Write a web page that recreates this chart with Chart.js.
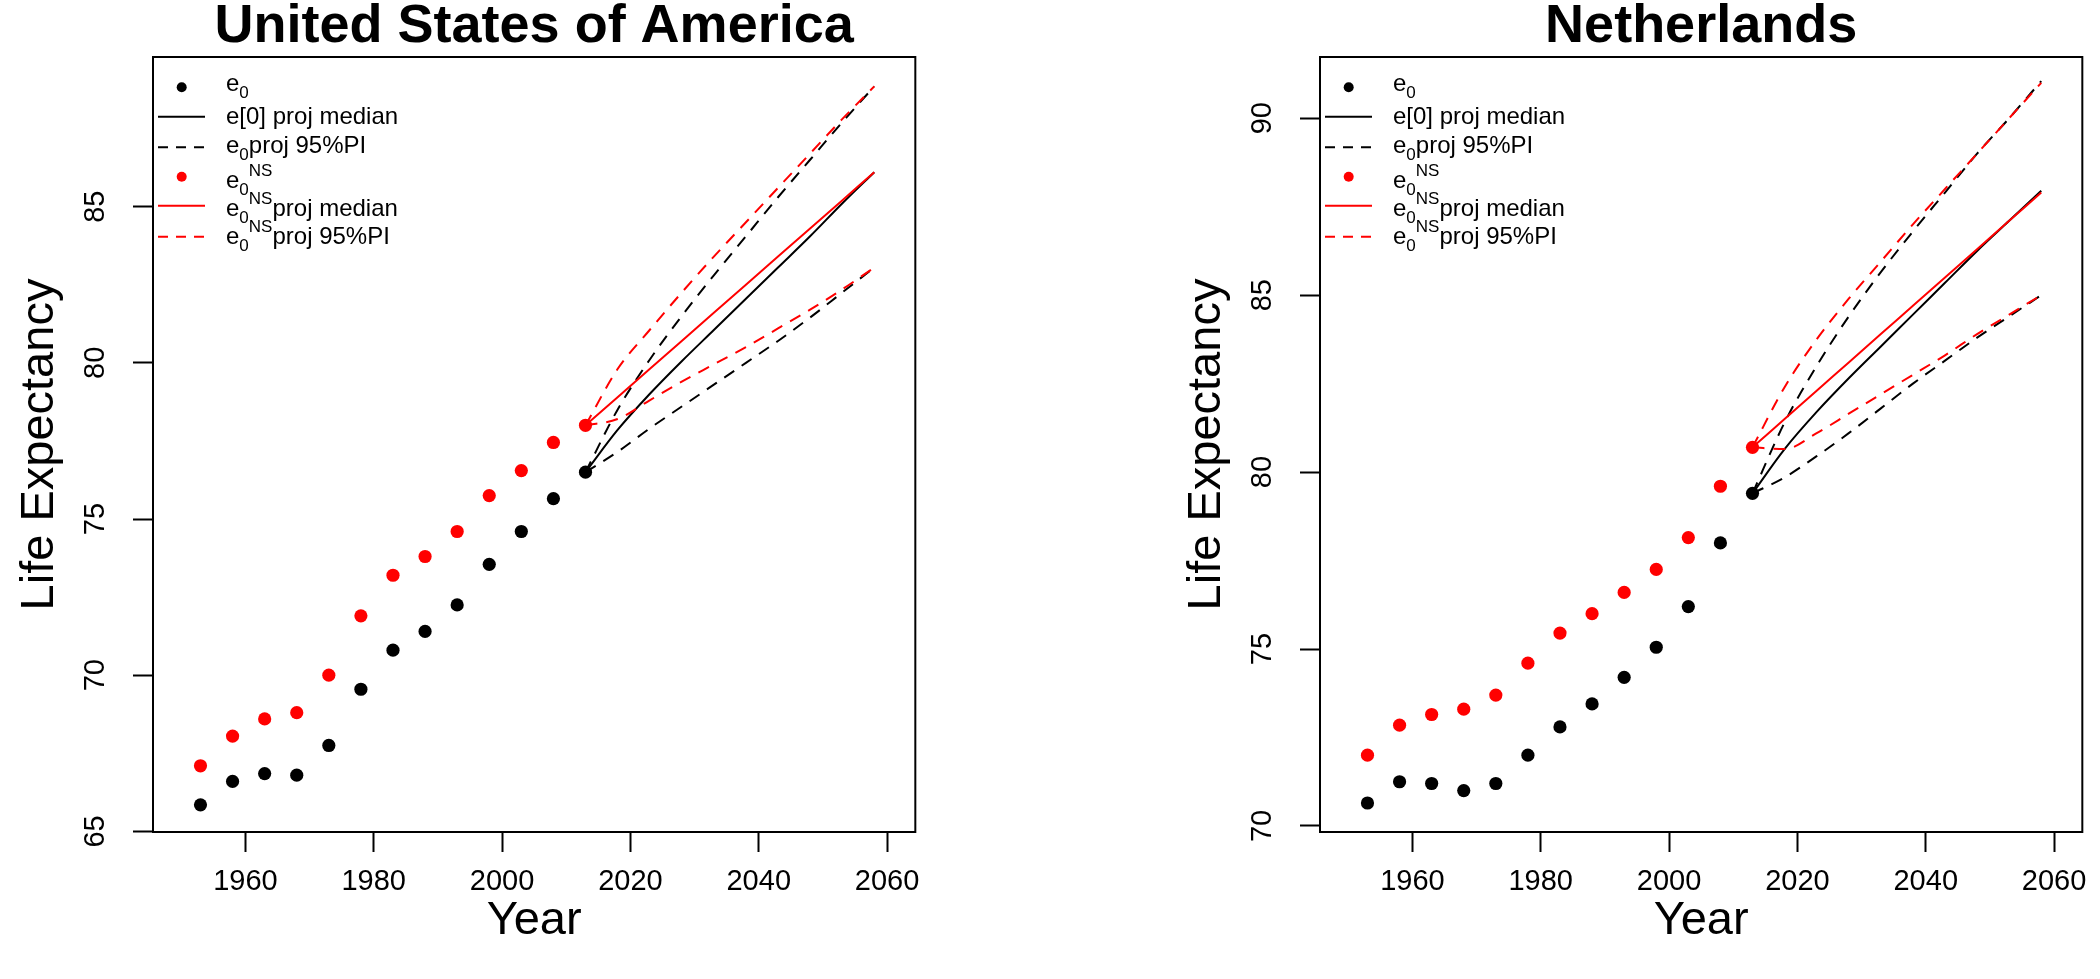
<!DOCTYPE html>
<html><head><meta charset="utf-8">
<script src="https://cdn.jsdelivr.net/npm/chart.js@4/dist/chart.umd.min.js"></script>
<style>
html,body{margin:0;padding:0;background:#fff;width:2100px;height:979px;overflow:hidden;}
.panel{position:absolute;top:0;width:933px;height:979px;}
#p1{left:0px} #p2{left:1167px}
.leg{position:absolute;font-family:"Liberation Sans",Arial,sans-serif;font-size:24px;line-height:24px;color:#000;white-space:nowrap;}
.sb{position:relative;top:7px;font-size:17px;}
.sp{position:relative;top:-12px;font-size:17px;}
svg.sym{position:absolute;left:0;top:0;overflow:visible;}
</style></head>
<body>
<div class="panel" id="p1"><canvas id="c1" width="933" height="979"></canvas></div>
<div class="panel" id="p2"><canvas id="c2" width="933" height="979"></canvas></div>
<script>
// ---- data ----
const obsYears  = [1953,1958,1963,1968,1973,1978,1983,1988,1993,1998,2003,2008,2013];
const projYears = [2013,2018,2023,2028,2033,2038,2043,2048,2053,2058];
const xTicks = [1960,1980,2000,2020,2040,2060];

const usaTitle = "United States of America";
const usaE0    = [65.85,66.6,66.85,66.8,67.75,69.55,70.8,71.4,72.25,73.55,74.6,75.65,76.5];
const usaE0NS  = [67.1,68.05,68.6,68.8,70.0,71.9,73.2,73.8,74.6,75.75,76.55,77.45,78.0];
const usaMed   = [76.5,77.85,79.0,80.05,81.05,82.05,83.05,84.05,85.1,86.1];
const usaUp    = [76.5,78.5,80.1,81.5,82.8,84.05,85.3,86.5,87.7,88.85];
const usaLo    = [76.5,77.15,77.9,78.6,79.3,80.0,80.7,81.45,82.25,83.05];
const usaNSMed = [78.0,78.9,79.8,80.7,81.6,82.5,83.4,84.3,85.2,86.1];
const usaNSUp  = [78.0,79.8,81.05,82.25,83.4,84.5,85.6,86.7,87.8,88.85];
const usaNSLo  = [78.0,78.2,78.8,79.4,79.95,80.5,81.1,81.7,82.35,83.05];
const usaYTicks = [65,70,75,80,85];

const nlTitle = "Netherlands";
const nlE0    = [70.65,71.25,71.2,71.0,71.2,72.0,72.8,73.45,74.2,75.05,76.2,78.0,79.4];
const nlE0NS  = [72.0,72.85,73.15,73.3,73.7,74.6,75.45,76.0,76.6,77.25,78.15,79.6,80.7];
const nlMed   = [79.4,80.65,81.7,82.65,83.55,84.45,85.35,86.25,87.1,87.95];
const nlUp    = [79.4,81.4,83.0,84.4,85.65,86.8,87.9,89.0,90.0,91.05];
const nlLo    = [79.4,79.85,80.45,81.1,81.8,82.5,83.15,83.8,84.4,85.0];
const nlNSMed = [80.7,81.5,82.3,83.1,83.9,84.7,85.5,86.3,87.1,87.9];
const nlNSUp  = [80.7,82.4,83.75,84.9,85.95,87.0,88.0,89.0,90.0,91.0];
const nlNSLo  = [80.7,80.65,81.1,81.65,82.2,82.75,83.3,83.9,84.45,85.0];
const nlYTicks = [70,75,80,85,90];

const xLabel = "Year";
const yLabel = "Life Expectancy";

// ---- helpers ----
const FONT = '"Liberation Sans", Arial, sans-serif';
const zip = (xs, ys) => xs.map((x, i) => ({x: x, y: ys[i]}));
const RED = '#ff0000', BLK = '#000000';
const DASH = [12, 9];

function lineDs(xs, ys, color, dash) {
  return {data: zip(xs, ys), showLine: true, borderColor: color, backgroundColor: color,
          borderWidth: 2, borderDash: dash || [], pointRadius: 0,
          cubicInterpolationMode: 'monotone', fill: false};
}
function pointDs(xs, ys, color) {
  return {data: zip(xs, ys), showLine: false, borderColor: color, backgroundColor: color,
          pointRadius: 6.6, pointBorderWidth: 0, pointStyle: 'circle'};
}

const boxPlugin = {
  id: 'box',
  afterDraw(chart) {
    const a = chart.chartArea, c = chart.ctx;
    c.save(); c.strokeStyle = '#000'; c.lineWidth = 2;
    c.strokeRect(a.left, a.top, a.right - a.left, a.bottom - a.top);
    c.restore();
  }
};

function makeChart(id, title, yMin, yMax, yTicks, d) {
  return new Chart(document.getElementById(id), {
    type: 'scatter',
    data: {datasets: [
      lineDs(projYears, d.nsUp, RED, DASH),
      lineDs(projYears, d.nsLo, RED, DASH),
      lineDs(projYears, d.nsMed, RED),
      lineDs(projYears, d.up, BLK, DASH),
      lineDs(projYears, d.lo, BLK, DASH),
      lineDs(projYears, d.med, BLK),
      pointDs(obsYears, d.e0ns, RED),
      pointDs(obsYears, d.e0, BLK)
    ]},
    options: {
      responsive: false, animation: false, devicePixelRatio: 1,
      layout: {padding: {left: 0, right: 5, top: 0, bottom: 0}},
      plugins: {
        legend: {display: false}, tooltip: {enabled: false},
        title: {display: true, text: title, fullSize: false, color: '#000',
                font: {family: FONT, size: 54, weight: 'bold', lineHeight: 1},
                padding: {top: 0, bottom: 3}}
      },
      scales: {
        x: {type: 'linear', min: 1945.6, max: 2064.4,
            afterBuildTicks: s => { s.ticks = xTicks.map(v => ({value: v})); },
            afterFit: s => { s.height = 147; },
            grid: {drawOnChartArea: false, drawTicks: true, tickLength: 20, tickWidth: 2, tickColor: '#000'},
            border: {display: true, color: '#000', width: 2},
            ticks: {callback: v => String(v), color: '#000', font: {family: FONT, size: 29},
                    padding: 13, maxRotation: 0, minRotation: 0, autoSkip: false},
            title: {display: true, text: xLabel, color: '#000', font: {family: FONT, size: 47},
                    padding: {top: 0, bottom: 30}}},
        y: {type: 'linear', min: yMin, max: yMax,
            afterBuildTicks: s => { s.ticks = yTicks.map(v => ({value: v})); },
            afterFit: s => { s.width = 153; },
            grid: {drawOnChartArea: false, drawTicks: true, tickLength: 20, tickWidth: 2, tickColor: '#000'},
            border: {display: true, color: '#000', width: 2},
            ticks: {callback: v => String(v), color: '#000', font: {family: FONT, size: 29},
                    padding: 21, minRotation: 90, maxRotation: 90, crossAlign: 'center', autoSkip: false},
            title: {display: true, text: yLabel, color: '#000', font: {family: FONT, size: 47},
                    padding: {top: 12, bottom: 0}}}
      }
    },
    plugins: [boxPlugin]
  });
}

makeChart('c1', usaTitle, 64.98, 89.79, usaYTicks,
  {e0: usaE0, e0ns: usaE0NS, med: usaMed, up: usaUp, lo: usaLo, nsMed: usaNSMed, nsUp: usaNSUp, nsLo: usaNSLo});
makeChart('c2', nlTitle, 69.83, 91.73, nlYTicks,
  {e0: nlE0, e0ns: nlE0NS, med: nlMed, up: nlUp, lo: nlLo, nsMed: nlNSMed, nsUp: nlNSUp, nsLo: nlNSLo});

// ---- legend (HTML text with sub/superscripts) ----
const legendItems = [
  {sym: 'dot',  color: BLK, html: 'e<span class="sb">0</span>'},
  {sym: 'line', color: BLK, html: 'e[0] proj median'},
  {sym: 'dash', color: BLK, html: 'e<span class="sb">0</span>proj 95%PI'},
  {sym: 'dot',  color: RED, html: 'e<span class="sb">0</span><span class="sp">NS</span>'},
  {sym: 'line', color: RED, html: 'e<span class="sb">0</span><span class="sp">NS</span>proj median'},
  {sym: 'dash', color: RED, html: 'e<span class="sb">0</span><span class="sp">NS</span>proj 95%PI'}
];
const symY  = [87.3, 116.7, 147.3, 176.7, 205.7, 236.7];
const textY = [84.7, 118.3, 146.7, 181.7, 210, 238.3];
function buildLegend(panelId) {
  const p = document.getElementById(panelId);
  const L = 153;
  let svg = '<svg class="sym" width="933" height="979" xmlns="http://www.w3.org/2000/svg">';
  legendItems.forEach((it, i) => {
    const y = symY[i];
    if (it.sym === 'dot') svg += `<circle cx="${L + 28.7}" cy="${y}" r="5" fill="${it.color}"/>`;
    else svg += `<line x1="${L + 5}" y1="${y}" x2="${L + 52}" y2="${y}" stroke="${it.color}" stroke-width="2" ${it.sym === 'dash' ? 'stroke-dasharray="10 8"' : ''}/>`;
  });
  svg += '</svg>';
  p.insertAdjacentHTML('beforeend', svg);
  legendItems.forEach((it, i) => {
    const d = document.createElement('div');
    d.className = 'leg';
    d.style.left = (L + 73) + 'px';
    d.style.top = (textY[i] - 14.1) + 'px';
    d.innerHTML = it.html;
    p.appendChild(d);
  });
}
buildLegend('p1');
buildLegend('p2');
</script>
</body></html>
